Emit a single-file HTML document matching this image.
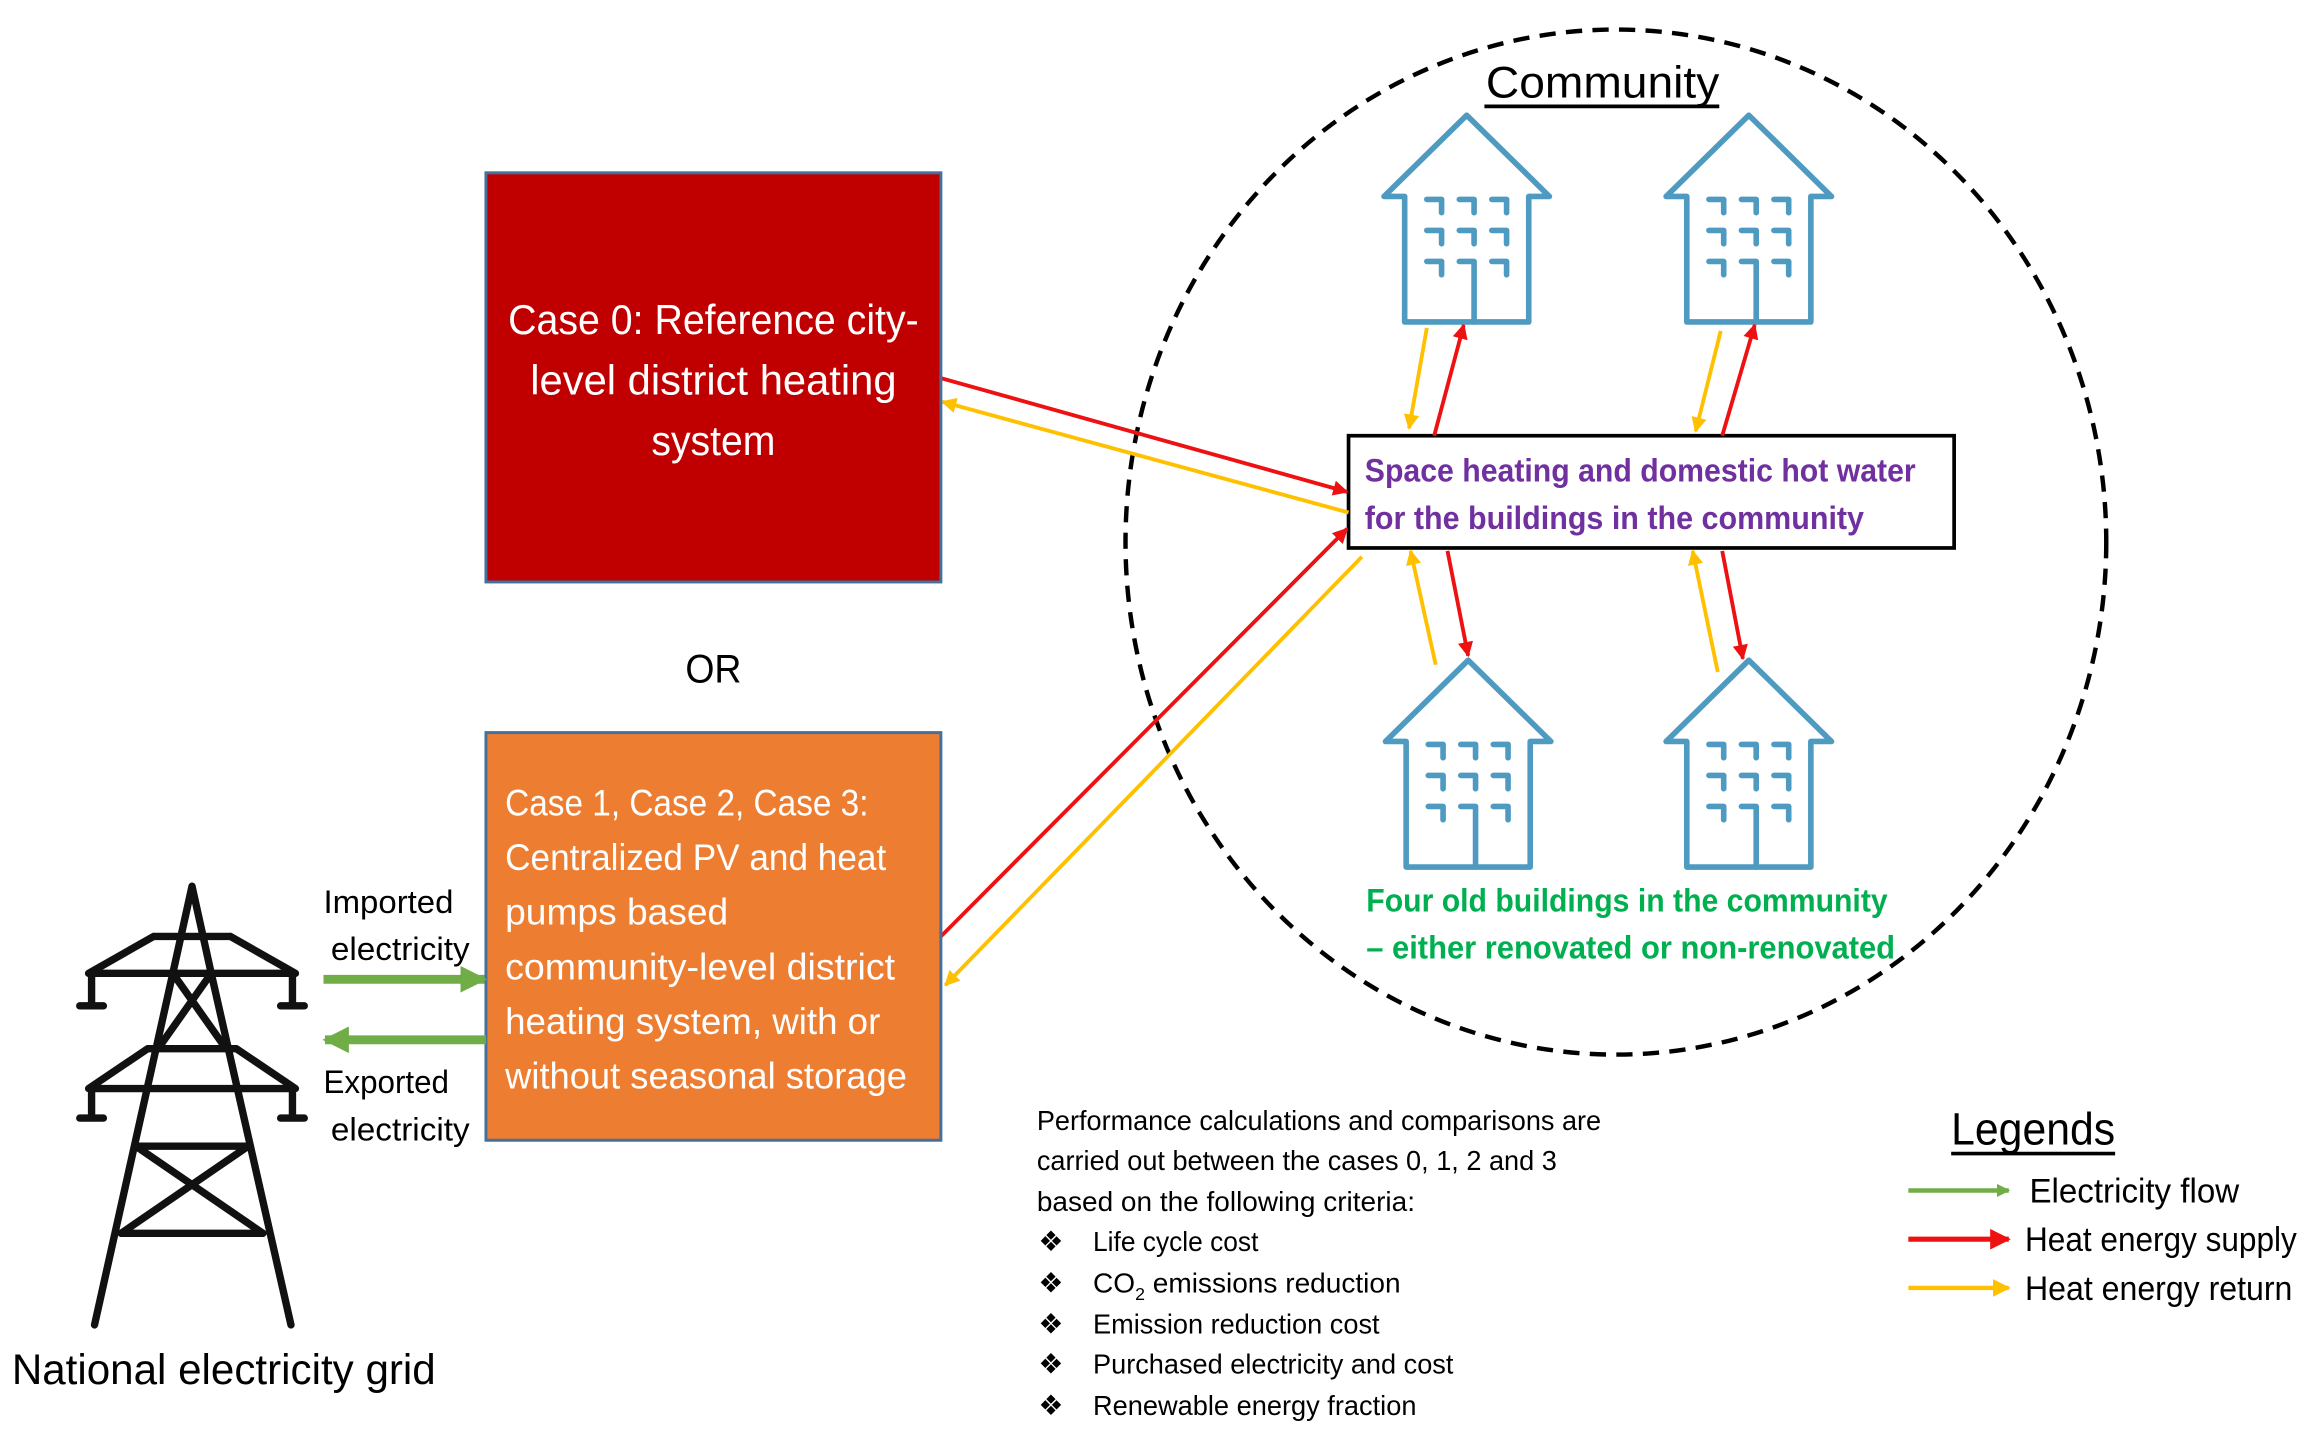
<!DOCTYPE html>
<html><head><meta charset="utf-8"><style>
html,body{margin:0;padding:0;background:#fff;}
svg{display:block;}
text{font-family:"Liberation Sans",sans-serif;}
</style></head><body>
<svg width="2316" height="1446" viewBox="0 0 1568 979" preserveAspectRatio="none" xmlns="http://www.w3.org/2000/svg">
<defs>
<g id="bld" fill="none" stroke="#4F9AC0" stroke-width="3.8" stroke-linejoin="round" stroke-linecap="round">
<path d="M-42,140 L-42,55 L-56,55 L0,0 L56,55 L42,55 L42,140 Z"/>
<path d="M-27,57 h10 v9 M-5,57 h10 v9 M17,57 h10 v9 M-27,78 h10 v9 M-5,78 h10 v9 M17,78 h10 v9 M-27,99 h10 v9 M-5,99 h10 v41 M17,99 h10 v9"/>
</g>
<marker id="mr" viewBox="0 0 10 10" refX="9" refY="5" markerWidth="4" markerHeight="4" orient="auto"><path d="M0,0 L10,5 L0,10 Z" fill="#EE1111"/></marker>
<marker id="my" viewBox="0 0 10 10" refX="9" refY="5" markerWidth="4" markerHeight="4" orient="auto"><path d="M0,0 L10,5 L0,10 Z" fill="#FFC000"/></marker>
<marker id="mg" viewBox="0 0 10 10" refX="9" refY="5" markerWidth="3" markerHeight="3" orient="auto"><path d="M0,0 L10,5 L0,10 Z" fill="#70AD47"/></marker>
</defs>

<!-- community circle -->
<ellipse cx="1094" cy="367" rx="332" ry="347" fill="none" stroke="#000" stroke-width="3" stroke-dasharray="11,7"/>
<text x="1085" y="66" font-size="30" text-anchor="middle" textLength="158" lengthAdjust="spacingAndGlyphs">Community</text>
<line x1="1005" y1="72" x2="1164" y2="72" stroke="#000" stroke-width="2.5"/>

<use href="#bld" x="993" y="78"/>
<use href="#bld" x="1184" y="78"/>
<use href="#bld" x="994" y="447"/>
<use href="#bld" x="1184" y="447"/>

<!-- central box -->
<rect x="913" y="295" width="410" height="76" fill="#fff" stroke="#000" stroke-width="2.5"/>
<text x="924" y="326" font-size="22" font-weight="bold" fill="#7030A0" textLength="373" lengthAdjust="spacingAndGlyphs">Space heating and domestic hot water</text>
<text x="924" y="358" font-size="22" font-weight="bold" fill="#7030A0" textLength="338" lengthAdjust="spacingAndGlyphs">for the buildings in the community</text>

<text x="925" y="617" font-size="22" font-weight="bold" fill="#00B050" textLength="353" lengthAdjust="spacingAndGlyphs">Four old buildings in the community</text>
<text x="925" y="649" font-size="22" font-weight="bold" fill="#00B050" textLength="358" lengthAdjust="spacingAndGlyphs">– either renovated or non-renovated</text>

<!-- vertical arrows -->
<g stroke-width="2.6" fill="none">
<line x1="966" y1="222" x2="954" y2="290" stroke="#FFC000" marker-end="url(#my)"/>
<line x1="971" y1="295" x2="991" y2="220" stroke="#EE1111" marker-end="url(#mr)"/>
<line x1="1165" y1="224" x2="1148" y2="292" stroke="#FFC000" marker-end="url(#my)"/>
<line x1="1166" y1="295" x2="1188" y2="220" stroke="#EE1111" marker-end="url(#mr)"/>
<line x1="972" y1="450" x2="955" y2="373" stroke="#FFC000" marker-end="url(#my)"/>
<line x1="980" y1="373" x2="994" y2="444" stroke="#EE1111" marker-end="url(#mr)"/>
<line x1="1163" y1="455" x2="1146" y2="373" stroke="#FFC000" marker-end="url(#my)"/>
<line x1="1166" y1="373" x2="1180" y2="446" stroke="#EE1111" marker-end="url(#mr)"/>
<!-- long arrows -->
<line x1="637" y1="256" x2="912" y2="333" stroke="#EE1111" marker-end="url(#mr)"/>
<line x1="913" y1="347" x2="638" y2="272" stroke="#FFC000" marker-end="url(#my)"/>
<line x1="637" y1="634" x2="912" y2="358" stroke="#EE1111" marker-end="url(#mr)"/>
<line x1="922" y1="377" x2="640" y2="667" stroke="#FFC000" marker-end="url(#my)"/>
</g>

<!-- red box -->
<rect x="329" y="117" width="308" height="277" fill="#C00000" stroke="#41719C" stroke-width="2"/>
<g fill="#fff" font-size="28" text-anchor="middle">
<text x="483" y="226" textLength="278" lengthAdjust="spacingAndGlyphs">Case 0: Reference city-</text>
<text x="483" y="267" textLength="248" lengthAdjust="spacingAndGlyphs">level district heating</text>
<text x="483" y="308" textLength="84" lengthAdjust="spacingAndGlyphs">system</text>
</g>
<text x="483" y="462" font-size="27" text-anchor="middle" textLength="38" lengthAdjust="spacingAndGlyphs">OR</text>

<!-- orange box -->
<rect x="329" y="496" width="308" height="276" fill="#ED7D31" stroke="#41719C" stroke-width="2"/>
<g fill="#fff" font-size="25">
<text x="342" y="552" textLength="246" lengthAdjust="spacingAndGlyphs">Case 1, Case 2, Case 3:</text>
<text x="342" y="589" textLength="258" lengthAdjust="spacingAndGlyphs">Centralized PV and heat</text>
<text x="342" y="626" textLength="151" lengthAdjust="spacingAndGlyphs">pumps  based</text>
<text x="342" y="663" textLength="264" lengthAdjust="spacingAndGlyphs">community-level district</text>
<text x="342" y="700" textLength="254" lengthAdjust="spacingAndGlyphs">heating system, with or</text>
<text x="342" y="737" textLength="272" lengthAdjust="spacingAndGlyphs">without seasonal storage</text>
</g>

<!-- green arrows -->
<line x1="219" y1="663" x2="328" y2="663" stroke="#70AD47" stroke-width="6" marker-end="url(#mg)"/>
<line x1="329" y1="704" x2="220" y2="704" stroke="#70AD47" stroke-width="6" marker-end="url(#mg)"/>
<g font-size="22">
<text x="219" y="618" textLength="88" lengthAdjust="spacingAndGlyphs">Imported</text>
<text x="224" y="650" textLength="94" lengthAdjust="spacingAndGlyphs">electricity</text>
<text x="219" y="740" textLength="85" lengthAdjust="spacingAndGlyphs">Exported</text>
<text x="224" y="772" textLength="94" lengthAdjust="spacingAndGlyphs">electricity</text>
</g>

<!-- tower -->
<g stroke="#111" stroke-width="5" fill="none" stroke-linejoin="round" stroke-linecap="round">
<path d="M64,897 L117,659 L130,600 L143,659 L197,897"/>
<path d="M104,634 L156,634 M60,659 L200,659 M104,634 L60,659 M156,634 L200,659"/>
<path d="M62,659 L62,681 M198,659 L198,681 M54,681 L70,681 M190,681 L206,681"/>
<path d="M117,659 L153,710 M143,659 L107,710"/>
<path d="M100,710 L160,710 M60,737 L200,737 M100,710 L60,737 M160,710 L200,737"/>
<path d="M62,737 L62,757 M198,737 L198,757 M54,757 L70,757 M190,757 L206,757"/>
<path d="M92,776 L168,776 M82,835 L178,835 M92,776 L178,835 M168,776 L82,835"/>
</g>
<text x="8" y="937" font-size="29" textLength="287" lengthAdjust="spacingAndGlyphs">National electricity grid</text>

<!-- criteria -->
<g font-size="19">
<text x="702" y="765" textLength="382" lengthAdjust="spacingAndGlyphs">Performance calculations and comparisons are</text>
<text x="702" y="792" textLength="352" lengthAdjust="spacingAndGlyphs">carried out between the cases 0, 1, 2 and 3</text>
<text x="702" y="820" textLength="256" lengthAdjust="spacingAndGlyphs">based on the following criteria:</text>
<text x="703" y="847">❖</text><text x="740" y="847" textLength="112" lengthAdjust="spacingAndGlyphs">Life cycle cost</text>
<text x="703" y="875">❖</text><text x="740" y="875">CO<tspan font-size="12" dy="5">2</tspan><tspan dy="-5"> emissions reduction</tspan></text>
<text x="703" y="903">❖</text><text x="740" y="903" textLength="194" lengthAdjust="spacingAndGlyphs">Emission reduction cost</text>
<text x="703" y="930">❖</text><text x="740" y="930" textLength="244" lengthAdjust="spacingAndGlyphs">Purchased electricity and cost</text>
<text x="703" y="958">❖</text><text x="740" y="958" textLength="219" lengthAdjust="spacingAndGlyphs">Renewable energy fraction</text>
</g>

<!-- legend -->
<text x="1321" y="775" font-size="31" textLength="111" lengthAdjust="spacingAndGlyphs">Legends</text>
<line x1="1321" y1="781" x2="1432" y2="781" stroke="#000" stroke-width="2.5"/>
<line x1="1292" y1="806" x2="1360" y2="806" stroke="#70AD47" stroke-width="3" marker-end="url(#mg)"/>
<line x1="1292" y1="839" x2="1360" y2="839" stroke="#EE1111" stroke-width="3.5" marker-end="url(#mr)"/>
<line x1="1292" y1="872" x2="1360" y2="872" stroke="#FFC000" stroke-width="3" marker-end="url(#my)"/>
<g font-size="23">
<text x="1374" y="814" textLength="142" lengthAdjust="spacingAndGlyphs">Electricity flow</text>
<text x="1371" y="847" textLength="184" lengthAdjust="spacingAndGlyphs">Heat energy supply</text>
<text x="1371" y="880" textLength="181" lengthAdjust="spacingAndGlyphs">Heat energy return</text>
</g>
</svg>
</body></html>
